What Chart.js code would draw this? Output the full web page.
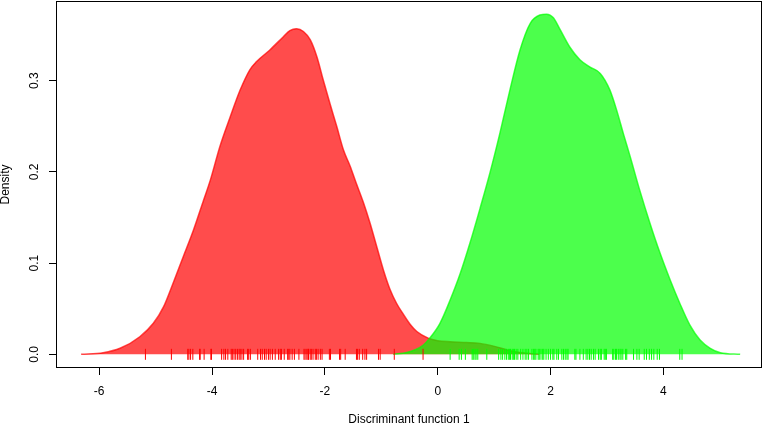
<!DOCTYPE html>
<html>
<head>
<meta charset="utf-8">
<script src="https://cdn.jsdelivr.net/npm/chart.js@4.4.1/dist/chart.umd.min.js"></script>
<style>
  html, body { margin: 0; padding: 0; background: #fff; }
  #wrap { width: 767px; height: 423px; }
</style>
</head>
<body>
<div id="wrap"><canvas id="ldaChart" width="767" height="423"></canvas></div>
<script>
// Density of group 1 (red)
const redX = [-6.32, -5.93, -5.63, -5.28, -5.04, -4.86, -4.69, -4.51, -4.33, -4.15, -4.03, -3.86, -3.68, -3.50, -3.33, -3.21, -2.97, -2.74, -2.62, -2.50, -2.38, -2.26, -2.14, -2.03, -1.91, -1.79, -1.67, -1.55, -1.44, -1.32, -1.20, -1.08, -0.96, -0.85, -0.73, -0.61, -0.49, -0.37, -0.17, 0.00, 0.22, 0.51, 0.75, 0.99, 1.22, 1.40, 1.80];
const redY = [0, 0.0018, 0.0066, 0.0193, 0.034, 0.052, 0.078, 0.107, 0.136, 0.169, 0.191, 0.228, 0.260, 0.290, 0.312, 0.321, 0.334, 0.348, 0.355, 0.357, 0.354, 0.345, 0.326, 0.301, 0.275, 0.250, 0.224, 0.206, 0.187, 0.167, 0.144, 0.118, 0.092, 0.072, 0.056, 0.044, 0.033, 0.025, 0.0178, 0.015, 0.0138, 0.013, 0.012, 0.009, 0.005, 0.0025, 0];

// Density of group 2 (green)
const greenX = [-0.79, -0.55, -0.40, -0.255, -0.14, 0.04, 0.22, 0.40, 0.57, 0.75, 0.93, 1.10, 1.28, 1.46, 1.64, 1.81, 1.93, 2.05, 2.17, 2.34, 2.52, 2.70, 2.88, 3.05, 3.17, 3.29, 3.41, 3.58, 3.76, 3.94, 4.12, 4.29, 4.47, 4.65, 4.83, 5.01, 5.36];
const greenY = [0, 0.002, 0.005, 0.010, 0.0178, 0.034, 0.0595, 0.0888, 0.1217, 0.160, 0.200, 0.242, 0.290, 0.334, 0.363, 0.372, 0.373, 0.369, 0.356, 0.337, 0.323, 0.315, 0.308, 0.290, 0.268, 0.242, 0.217, 0.180, 0.144, 0.111, 0.0815, 0.056, 0.032, 0.0157, 0.0066, 0.0018, 0];

// Rug (individual scores)
const redRug = [-5.18, -4.72, -4.43, -4.41, -4.38, -4.34, -4.22, -4.21, -4.14, -4.02, -4.01, -3.83, -3.79, -3.76, -3.72, -3.66, -3.64, -3.61, -3.58, -3.55, -3.52, -3.50, -3.47, -3.44, -3.37, -3.35, -3.32, -3.19, -3.14, -3.11, -3.07, -3.04, -3.00, -2.97, -2.93, -2.88, -2.82, -2.79, -2.77, -2.72, -2.66, -2.64, -2.62, -2.58, -2.54, -2.46, -2.37, -2.35, -2.32, -2.30, -2.29, -2.26, -2.24, -2.21, -2.17, -2.15, -2.12, -2.08, -2.05, -1.92, -1.90, -1.74, -1.72, -1.64, -1.44, -1.42, -1.39, -1.33, -1.29, -1.26, -1.05, -1.02, -0.77, -0.26];
const greenRug = [0.22, 0.38, 0.42, 0.49, 0.61, 0.63, 0.66, 0.68, 0.71, 0.87, 1.08, 1.12, 1.15, 1.19, 1.22, 1.25, 1.27, 1.29, 1.32, 1.34, 1.36, 1.39, 1.42, 1.47, 1.51, 1.55, 1.58, 1.61, 1.67, 1.70, 1.72, 1.74, 1.78, 1.80, 1.83, 1.86, 1.88, 1.92, 1.96, 2.00, 2.04, 2.06, 2.11, 2.14, 2.20, 2.23, 2.26, 2.29, 2.31, 2.43, 2.45, 2.52, 2.58, 2.63, 2.66, 2.69, 2.72, 2.76, 2.79, 2.85, 2.88, 2.90, 2.95, 2.97, 2.99, 3.10, 3.12, 3.15, 3.17, 3.20, 3.23, 3.25, 3.28, 3.33, 3.35, 3.47, 3.53, 3.57, 3.66, 3.70, 3.75, 3.79, 3.83, 3.89, 3.93, 4.29, 4.33];

// Axis ticks
const xTicks = [-6, -4, -2, 0, 2, 4];
const yTicks = [0, 0.1, 0.2, 0.3];

const FONT = '"Liberation Sans", Arial, sans-serif';

const toPoints = (xs, ys) => xs.map((x, i) => ({ x: x, y: ys[i] }));
const toRug = (xs) => xs.map(x => ({ x: x, y: 0 }));

// draws the box and the rotated y tick labels (R style)
const framePlugin = {
    id: 'frame',
    afterDraw(chart) {
        const { ctx, chartArea: a, scales } = chart;
        ctx.save();
        ctx.strokeStyle = '#000';
        ctx.lineWidth = 1;
        ctx.strokeRect(a.left + 0.5, a.top + 0.5, a.right - a.left - 1, a.bottom - a.top - 1);

        ctx.fillStyle = '#000';
        ctx.font = '12px ' + FONT;
        ctx.textAlign = 'center';
        ctx.textBaseline = 'middle';
        yTicks.forEach(v => {
            const py = scales.y.getPixelForValue(v);
            ctx.save();
            ctx.translate(35, py);
            ctx.rotate(-Math.PI / 2);
            ctx.fillText(v.toFixed(1), 0, 0);
            ctx.restore();
        });
        ctx.restore();
    }
};

const ctx = document.getElementById('ldaChart').getContext('2d');
new Chart(ctx, {
    type: 'line',
    data: {
        datasets: [
            {
                label: 'Group 1',
                data: toPoints(redX, redY),
                borderColor: 'rgba(255,0,0,0.7)',
                backgroundColor: 'rgba(255,0,0,0.7)',
                borderWidth: 1.5,
                fill: 'origin',
                pointRadius: 0,
                cubicInterpolationMode: 'monotone',
                order: 4
            },
            {
                label: 'Group 2',
                data: toPoints(greenX, greenY),
                borderColor: 'rgba(0,255,0,0.7)',
                backgroundColor: 'rgba(0,255,0,0.7)',
                borderWidth: 1.5,
                fill: 'origin',
                pointRadius: 0,
                cubicInterpolationMode: 'monotone',
                order: 3
            },
            {
                type: 'scatter',
                label: 'Rug 1',
                data: toRug(redRug),
                showLine: false,
                pointStyle: 'line',
                rotation: 90,
                radius: 5.5,
                borderColor: '#ff0000',
                borderWidth: 1,
                order: 2
            },
            {
                type: 'scatter',
                label: 'Rug 2',
                data: toRug(greenRug),
                showLine: false,
                pointStyle: 'line',
                rotation: 90,
                radius: 5.5,
                borderColor: '#00ff00',
                borderWidth: 1,
                order: 1
            }
        ]
    },
    options: {
        responsive: false,
        animation: false,
        layout: { autoPadding: false, padding: { top: 1, right: 5, left: 0, bottom: 0 } },
        plugins: {
            legend: { display: false },
            tooltip: { enabled: false }
        },
        scales: {
            x: {
                type: 'linear',
                min: -6.765,
                max: 5.747,
                afterBuildTicks: (scale) => { scale.ticks = xTicks.map(v => ({ value: v })); },
                afterFit: (scale) => { scale.height = 55; },
                border: { display: false },
                grid: { drawOnChartArea: false, tickLength: 7, color: '#000' },
                ticks: {
                    color: '#000',
                    font: { family: FONT, size: 12 },
                    padding: 9,
                    maxRotation: 0
                },
                title: {
                    display: true,
                    text: 'Discriminant function 1',
                    color: '#000',
                    font: { family: FONT, size: 12, lineHeight: 1 },
                    padding: { top: 0, bottom: -3 }
                }
            },
            y: {
                type: 'linear',
                min: -0.015,
                max: 0.3874,
                afterBuildTicks: (scale) => { scale.ticks = yTicks.map(v => ({ value: v })); },
                afterFit: (scale) => { scale.width = 56; },
                border: { display: false },
                grid: { drawOnChartArea: false, tickLength: 7, color: '#000' },
                ticks: { display: false },
                title: {
                    display: true,
                    text: 'Density',
                    color: '#000',
                    font: { family: FONT, size: 12, lineHeight: 1 },
                    padding: { top: 0, bottom: 0 }
                }
            }
        }
    },
    plugins: [framePlugin]
});
</script>
</body>
</html>
